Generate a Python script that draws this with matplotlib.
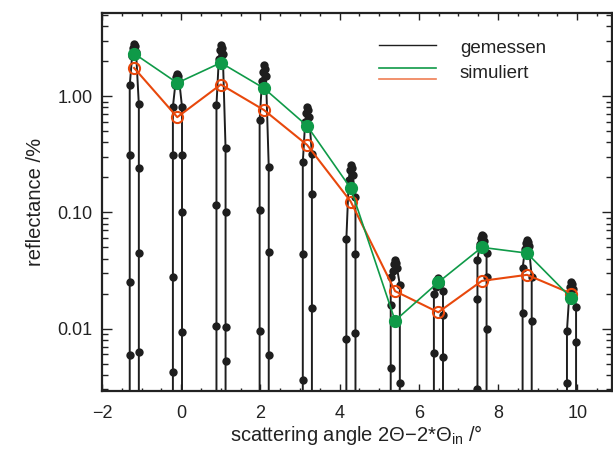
import numpy as np
import matplotlib
matplotlib.use("Agg")
import matplotlib.pyplot as plt
from matplotlib.ticker import LogLocator, FixedLocator, FuncFormatter, NullFormatter

plt.rcParams["font.family"] = ["Liberation Sans", "DejaVu Sans"]
plt.rcParams["mathtext.fontset"] = "custom"
plt.rcParams["mathtext.rm"] = "Liberation Sans"
plt.rcParams["mathtext.it"] = "Liberation Sans"

C_TEXT = "#222222"
C_MEAS = "#1e1e1e"
C_GREEN = "#0f9a48"
C_ORANGE = "#e8480c"

# ── peak positions (scattering angle, deg) ─────────────────────────────
peak_pos = [-1.19, -0.10, 1.00, 2.09, 3.18, 4.28, 5.40, 6.49, 7.59, 8.73, 9.85]

# simulated reflectance at the peaks (%)
sim_green = [2.33, 1.30, 1.94, 1.17, 0.555, 0.161, 0.0117, 0.025, 0.050, 0.0446, 0.0183]
sim_orange = [1.75, 0.66, 1.26, 0.76, 0.38, 0.124, 0.021, 0.0138, 0.0257, 0.029, 0.020]

# measured scan: per peak, left flank (rising), top, right flank (falling)
meas_left = [
    [0.0059, 0.025, 0.31, 1.24],
    [0.0042, 0.028, 0.31, 0.81],
    [0.0106, 0.115, 0.84],
    [0.0096, 0.104, 0.62],
    [0.0036, 0.044, 0.27],
    [0.0082, 0.059],
    [0.0046, 0.0161, 0.028],
    [0.0062, 0.020],
    [0.0030, 0.018, 0.039],
    [0.0137, 0.033],
    [0.0034, 0.0096],
]
meas_top = [
    [2.2, 2.6, 2.8, 2.7, 2.4],
    [1.25, 1.45, 1.55, 1.5, 1.35],
    [2.1, 2.5, 2.75, 2.6, 2.3],
    [1.35, 1.6, 1.85, 1.7, 1.5],
    [0.60, 0.72, 0.80, 0.76, 0.66],
    [0.19, 0.23, 0.255, 0.24, 0.21],
    [0.031, 0.036, 0.039, 0.037, 0.033],
    [0.023, 0.026, 0.027, 0.026, 0.024],
    [0.053, 0.060, 0.064, 0.062, 0.057],
    [0.048, 0.055, 0.058, 0.056, 0.051],
    [0.020, 0.023, 0.025, 0.024, 0.022],
]
meas_right = [
    [0.85, 0.24, 0.045, 0.0063],
    [0.81, 0.31, 0.10, 0.0093],
    [0.355, 0.10, 0.0104, 0.0053],
    [0.246, 0.0455, 0.0059],
    [0.32, 0.145, 0.015],
    [0.136, 0.044, 0.0091],
    [0.0238, 0.0034],
    [0.021, 0.013, 0.0057],
    [0.045, 0.028, 0.010],
    [0.0276, 0.0117],
    [0.0153, 0.0076],
]
# angular offsets of flanks / top points relative to peak centre (deg)
left_dx = -0.11
right_dx = 0.12
top_dx = [-0.05, -0.025, 0.0, 0.025, 0.05]
floor_val = 1e-4

# assemble the continuous measured scan
ang, refl = [], []
for c, lv, tv, rv in zip(peak_pos, meas_left, meas_top, meas_right):
    ang.append(c + left_dx); refl.append(floor_val)
    for v in lv:
        ang.append(c + left_dx); refl.append(v)
    for d, v in zip(top_dx, tv):
        ang.append(c + d); refl.append(v)
    for v in rv:
        ang.append(c + right_dx); refl.append(v)
    ang.append(c + right_dx); refl.append(floor_val)
ang = np.array(ang)
refl = np.array(refl)

fig = plt.figure(figsize=(6.13, 4.5), dpi=100)
ax = fig.add_axes([0.1664, 0.1311, 0.8315, 0.84])

ax.plot(ang, refl, "-o", color=C_MEAS, lw=1.4, ms=6, mew=0, zorder=2)
ax.plot(peak_pos, sim_orange, "-o", color=C_ORANGE, lw=1.5, ms=8,
        mfc="none", mec=C_ORANGE, mew=1.5, zorder=3)
ax.plot(peak_pos, sim_green, "-o", color=C_GREEN, lw=1.2, ms=8.5,
        mfc=C_GREEN, mec=C_GREEN, zorder=4)

ax.set_yscale("log")
ax.set_xlim(-2, 10.87)
ax.set_ylim(0.0029, 5.2)

ax.xaxis.set_major_locator(FixedLocator([-2, 0, 2, 4, 6, 8, 10]))
ax.xaxis.set_minor_locator(FixedLocator(np.arange(-2, 11, 0.5)))
ax.yaxis.set_major_locator(FixedLocator([0.01, 0.1, 1.0]))
ax.yaxis.set_minor_locator(LogLocator(base=10, subs=np.arange(2, 10)))
ax.yaxis.set_major_formatter(FuncFormatter(lambda v, p: f"{v:.2f}"))
ax.yaxis.set_minor_formatter(NullFormatter())
ax.xaxis.set_major_formatter(FuncFormatter(lambda v, p: f"{v:.0f}".replace("-", "\u2212")))

ax.tick_params(which="both", direction="in", top=True, right=True,
               colors=C_TEXT, width=1.0, labelsize=13)
ax.tick_params(axis="x", which="major", length=5, pad=10)
ax.tick_params(axis="x", which="minor", length=2.5)
ax.tick_params(axis="y", which="major", length=7, pad=7)
ax.tick_params(axis="y", which="minor", length=4)
for s in ax.spines.values():
    s.set_linewidth(1.6)
    s.set_color(C_TEXT)

ax.set_xlabel("scattering angle 2\u0398\u22122*\u0398$_\\mathrm{in}$ /\u00b0",
              fontsize=14.5, color=C_TEXT, labelpad=1)
ax.set_ylabel("reflectance /%", fontsize=14.5, color=C_TEXT, labelpad=9)

# legend drawn in axes coordinates
tr = ax.transAxes
ax.plot([0.544, 0.656], [0.915, 0.915], color=C_MEAS, lw=1.0, transform=tr)
ax.plot([0.544, 0.656], [0.854, 0.854], color=C_GREEN, lw=1.2, transform=tr)
ax.plot([0.544, 0.656], [0.825, 0.825], color=C_ORANGE, lw=1.2, transform=tr, alpha=0.7)
ax.text(0.702, 0.907, "gemessen", transform=tr, fontsize=13.5, color=C_TEXT, va="center")
ax.text(0.702, 0.841, "simuliert", transform=tr, fontsize=13.5, color=C_TEXT, va="center")

fig.savefig("out.png", dpi=100, facecolor="white")
